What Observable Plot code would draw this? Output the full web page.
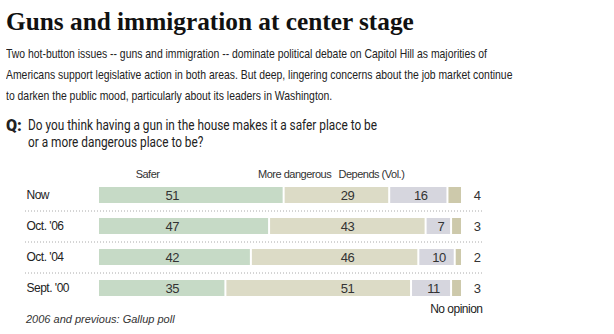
<!DOCTYPE html>
<html>
<head>
<meta charset="utf-8">
<script src="https://cdn.jsdelivr.net/npm/d3@7"></script>
<script src="https://cdn.jsdelivr.net/npm/@observablehq/plot@0.6"></script>
<style>
  html, body { margin: 0; padding: 0; background: #fff; }
  body { width: 614px; height: 334px; position: relative; overflow: hidden; }
  .title { position: absolute; left: 6px; top: 7px; font-family: "Liberation Serif", "DejaVu Serif", serif; font-weight: bold; font-size: 25.3px; color: #111; white-space: nowrap; }
  .sub { position: absolute; left: 6px; top: 43px; font-family: "Liberation Sans", sans-serif; font-size: 13px; line-height: 21px; color: #222; white-space: nowrap; transform: scaleX(0.8); transform-origin: 0 0; }
  .q { position: absolute; left: 6px; top: 117px; font-family: "Roboto", sans-serif; font-size: 14px; line-height: 17px; color: #222; }
  .q b { position: absolute; left: 0; top: 0; font-family: "Roboto", sans-serif; font-weight: 900; font-size: 16px; }
  .q span { display: block; margin-left: 22px; white-space: nowrap; transform: scaleX(0.845); transform-origin: 0 0; }
  #chart { position: absolute; left: 0; top: 160px; }
  #chart svg { letter-spacing: -0.5px; }
  .foot { position: absolute; left: 26px; top: 313px; font-family: "Liberation Sans", sans-serif; font-style: italic; font-size: 11px; color: #333; }
</style>
</head>
<body>
<div class="title">Guns and immigration at center stage</div>
<div class="sub">Two hot-button issues -- guns and immigration -- dominate political debate on Capitol Hill as majorities of<br>Americans support legislative action in both areas. But deep, lingering concerns about the job market continue<br>to darken the public mood, particularly about its leaders in Washington.</div>
<div class="q"><b>Q:</b><span>Do you think having a gun in the house makes it a safer place to be</span><span>or a more dangerous place to be?</span></div>
<div id="chart"></div>
<div class="foot">2006 and previous: Gallup poll</div>
<script>
const periods = ["Now", "Oct. '06", "Oct. '04", "Sept. '00"];
const answers = ["Safer", "More dangerous", "Depends (Vol.)", "No opinion"];
const safer = [51, 47, 42, 35];
const moreDangerous = [29, 43, 46, 51];
const depends = [16, 7, 10, 11];
const noOpinion = [4, 3, 2, 3];
const colors = ["#c6dac6", "#dcdbc6", "#d6d6de", "#cdc9ab"];

const series = [safer, moreDangerous, depends, noOpinion];
const rows = [];
periods.forEach((p, i) => answers.forEach((a, j) => rows.push({period: p, answer: a, value: series[j][i]})));
const byAnswer = a => rows.filter(d => d.answer === a);
const noOp = byAnswer("No opinion");

const font = "'Liberation Sans', sans-serif";
const chart = Plot.plot({
  width: 614,
  height: 156,
  marginLeft: 25,
  marginRight: 132,
  marginTop: 19.5,
  marginBottom: 12.5,
  style: {fontFamily: font, fontSize: "12px", color: "#222", background: "#fff"},
  x: {domain: [0, 100], range: [99, 463], axis: null},
  y: {domain: periods, paddingInner: 0.48, paddingOuter: 0.24, axis: null},
  color: {domain: answers, range: colors},
  marks: [
    Plot.ruleY(periods.slice(0, -1), {y: d => d, dy: 15.5, stroke: "#aaa", strokeDasharray: "1,2", strokeWidth: 1}),
    Plot.barX(rows, Plot.stackX({x: "value", y: "period", fill: "answer", order: answers, insetRight: 2})),
    // Safer and More dangerous values sit in fixed columns
    Plot.text(byAnswer("Safer"), {x: () => 20, y: "period", text: d => String(d.value), fill: "#333", fontSize: 13}),
    Plot.text(byAnswer("More dangerous"), {x: () => 68.1, y: "period", text: d => String(d.value), fill: "#333", fontSize: 13}),
    // Depends values centred in their segment
    Plot.text(rows, Plot.stackX({x: "value", y: "period", z: "answer", order: answers,
      text: d => d.answer === "Depends (Vol.)" ? String(d.value) : "", fill: "#333", fontSize: 13, dx: 1})),
    Plot.text(periods, {y: d => d, text: d => d, frameAnchor: "left", textAnchor: "start", dx: 1, fontSize: 12, fill: "#222"}),
    Plot.text(noOp, {y: "period", text: d => String(d.value), frameAnchor: "right", textAnchor: "end", dx: -2, fontSize: 13, fill: "#333"}),
    Plot.text(["No opinion"], {text: d => d, frameAnchor: "bottom-right", textAnchor: "end", dy: 9, fontSize: 12, fill: "#222"}),
    Plot.text([
      {label: "Safer", x: 13.2},
      {label: "More dangerous", x: 53.6},
      {label: "Depends (Vol.)", x: 74.7}
    ], {x: "x", text: "label", frameAnchor: "top", dy: -10, fontSize: 11, fill: "#333"})
  ]
});
document.getElementById("chart").appendChild(chart);
</script>
</body>
</html>
